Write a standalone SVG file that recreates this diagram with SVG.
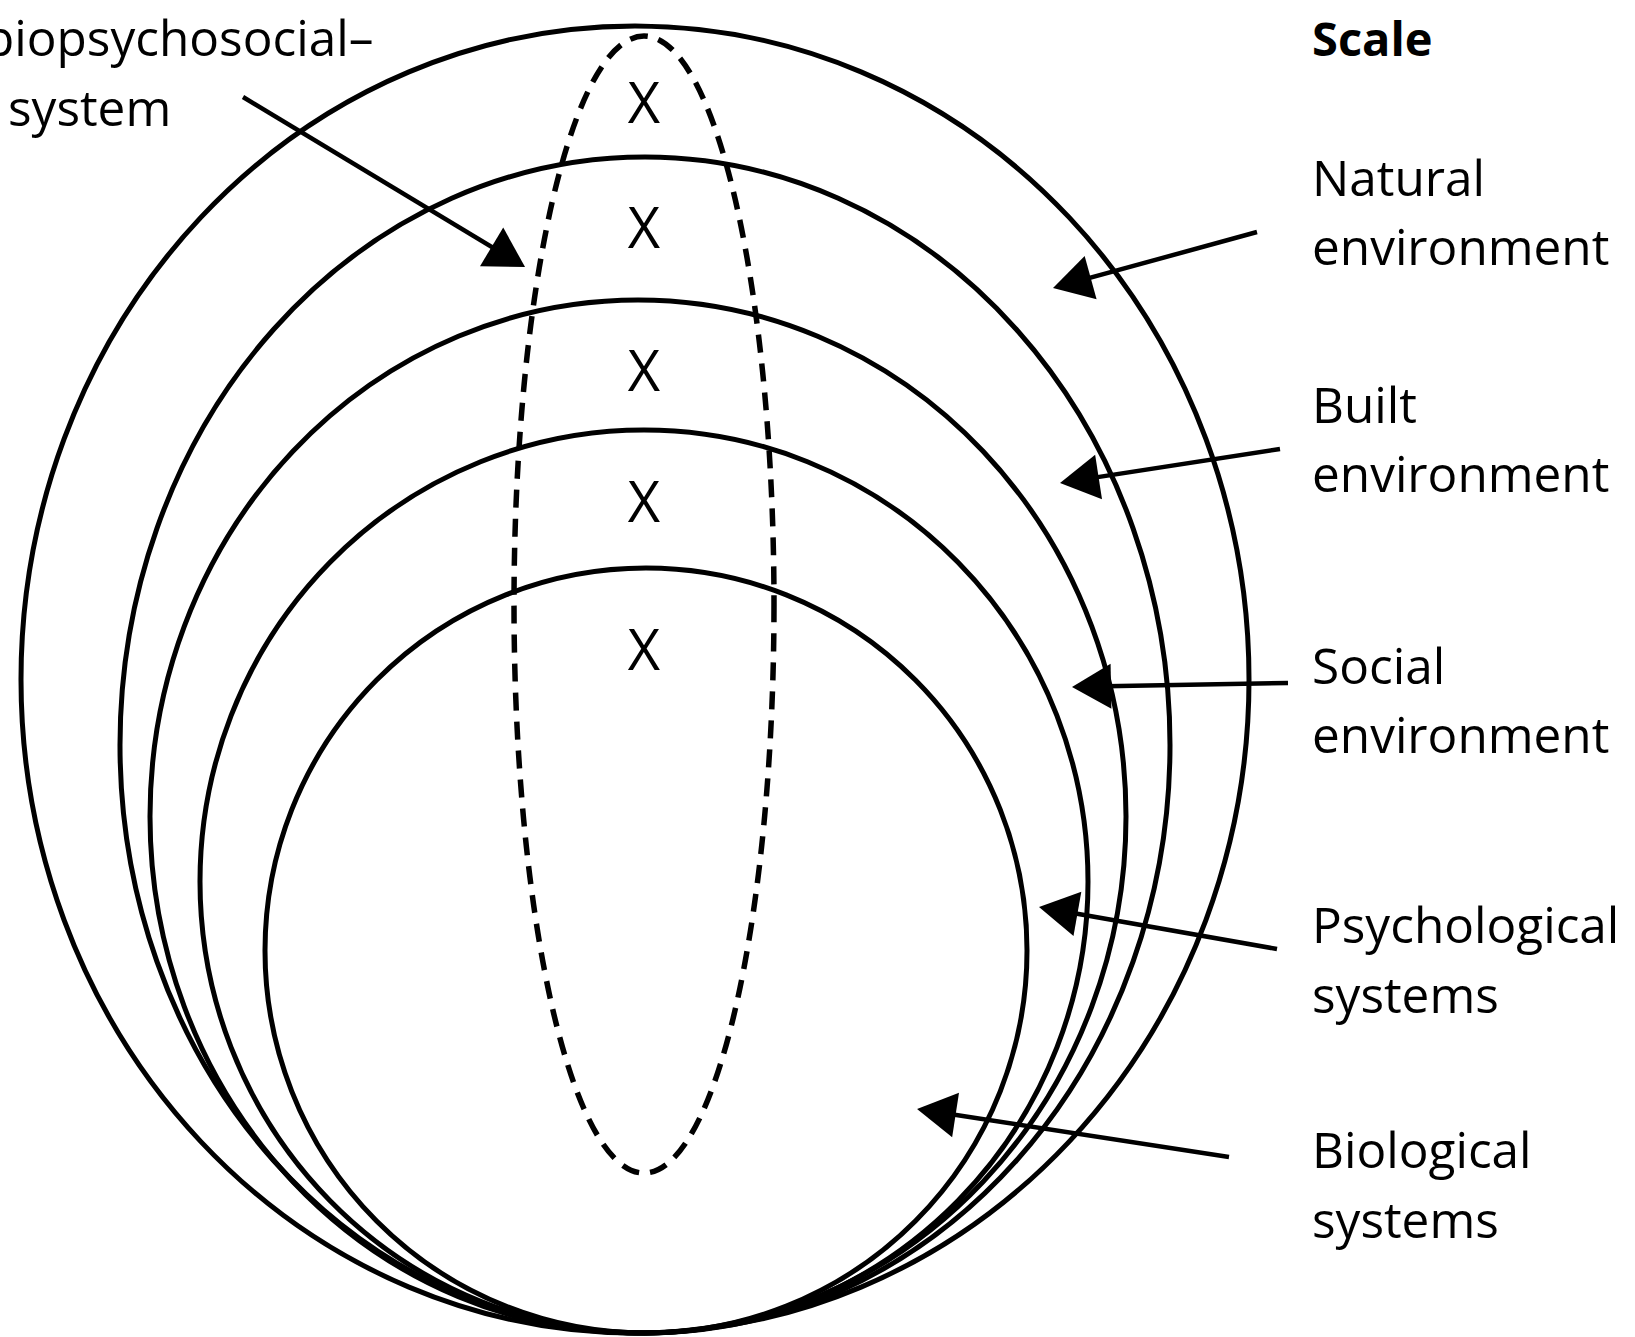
<svg xmlns="http://www.w3.org/2000/svg" width="1635" height="1337" viewBox="0 0 1635 1337">
  <style>
    .ring { fill: none; stroke: #000; stroke-width: 5; }
    .span { fill: none; stroke: #000; stroke-width: 5.5; stroke-dasharray: 18 11; }
    .lbl { font-family: "Open Sans", "Noto Sans", "DejaVu Sans", sans-serif; font-size: 49.5px; fill: #000; }
    .hd { font-weight: bold; font-size: 47px; }
    .mark { font-family: "Open Sans", "Noto Sans", "DejaVu Sans", sans-serif; font-size: 56px; fill: #000; text-anchor: middle; }
    .ptr { fill: none; stroke: #000; stroke-width: 4.5; marker-end: url(#head); }
  </style>
  <defs>
    <marker id="head" markerUnits="userSpaceOnUse" orient="auto" refX="0" refY="0" markerWidth="60" markerHeight="60" overflow="visible">
      <path d="M 20 0 L -19 -22.5 L -19 22.5 Z" fill="#000"/>
    </marker>
  </defs>
  <rect width="1635" height="1337" fill="#fff"/>

  <!-- nested scales, all meeting near the bottom -->
  <g id="natural-environment">
    <ellipse class="ring" cx="635" cy="679.5" rx="614" ry="653.5"/>
  </g>
  <g id="built-environment">
    <ellipse class="ring" cx="645" cy="745" rx="525" ry="588"/>
  </g>
  <g id="social-environment">
    <ellipse class="ring" cx="638" cy="816.5" rx="488" ry="516.5"/>
  </g>
  <g id="psychological-systems">
    <ellipse class="ring" cx="644" cy="881.5" rx="444" ry="451.5"/>
  </g>
  <g id="biological-systems">
    <ellipse class="ring" cx="646" cy="950.5" rx="381" ry="382.5"/>
  </g>

  <!-- the system cutting across every scale -->
  <g id="biopsychosocial-system">
    <ellipse class="span" cx="644" cy="604.5" rx="130" ry="568.5"/>
    <text class="mark" x="644" y="123">X</text>
    <text class="mark" x="644" y="248">X</text>
    <text class="mark" x="644" y="391">X</text>
    <text class="mark" x="644" y="522">X</text>
    <text class="mark" x="644" y="670">X</text>
  </g>

  <g id="connectors">
    <line class="ptr" x1="243" y1="97" x2="507.9" y2="256.7"/>
    <line class="ptr" x1="1257" y1="232" x2="1072.3" y2="282.7"/>
    <line class="ptr" x1="1280" y1="449" x2="1079.8" y2="479.9"/>
    <line class="ptr" x1="1288" y1="683" x2="1092" y2="686.6"/>
    <line class="ptr" x1="1277" y1="949" x2="1058.7" y2="910.5"/>
    <line class="ptr" x1="1229" y1="1157" x2="936.8" y2="1112"/>
  </g>

  <g id="labels">
    <text class="lbl" x="-16" y="56">biopsychosocial–</text>
    <text class="lbl" x="8" y="126">system</text>
    <text class="lbl hd" x="1312" y="56">Scale</text>
    <text class="lbl" x="1312" y="196">Natural</text>
    <text class="lbl" x="1312" y="265">environment</text>
    <text class="lbl" x="1312" y="423">Built</text>
    <text class="lbl" x="1312" y="492">environment</text>
    <text class="lbl" x="1312" y="684">Social</text>
    <text class="lbl" x="1312" y="753">environment</text>
    <text class="lbl" x="1312" y="943">Psychological</text>
    <text class="lbl" x="1312" y="1013">systems</text>
    <text class="lbl" x="1312" y="1168">Biological</text>
    <text class="lbl" x="1312" y="1238">systems</text>
  </g>
</svg>
